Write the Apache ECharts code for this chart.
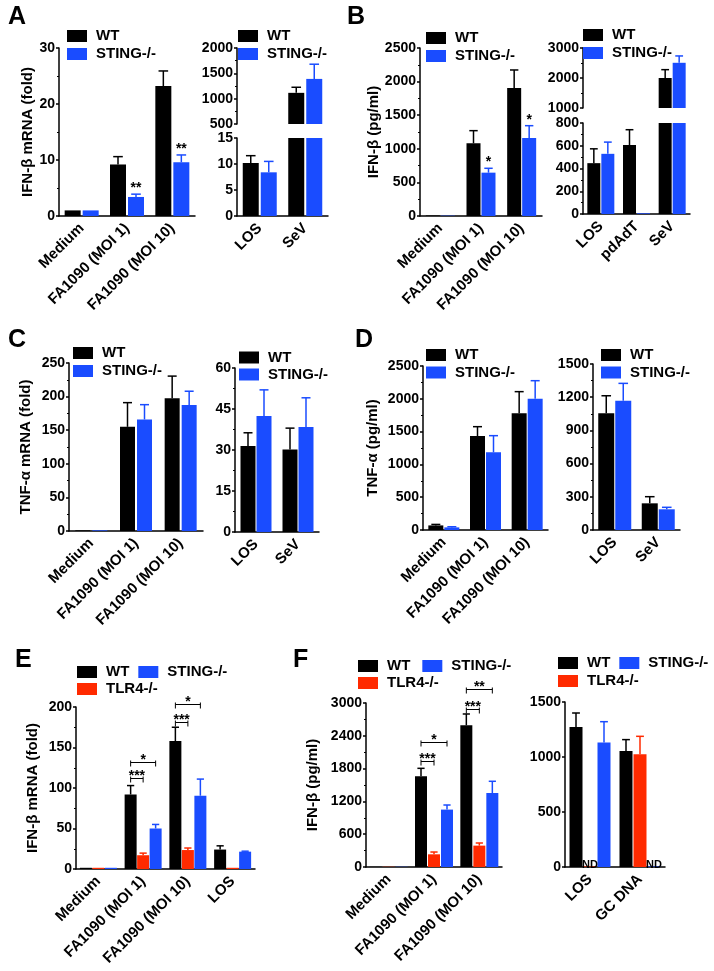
<!DOCTYPE html>
<html>
<head>
<meta charset="utf-8">
<script src="https://cdn.jsdelivr.net/npm/echarts@6/dist/echarts.min.js"></script>
<style>
html, body { margin: 0; padding: 0; background: #fff; }
#main { width: 714px; height: 971px; }
</style>
</head>
<body>
<div id="main"></div>
<script>
// categories
var catsInfect = ['Medium', 'FA1090 (MOI 1)', 'FA1090 (MOI 10)'];
var catsLosSev = ['LOS', 'SeV'];
var catsLosPdSev = ['LOS', 'pdAdT', 'SeV'];
var catsE = ['Medium', 'FA1090 (MOI 1)', 'FA1090 (MOI 10)', 'LOS'];
var catsF2 = ['LOS', 'GC DNA'];

// A: IFN-b mRNA (fold)
var aWT = [1, 9.2, 23.2];        var aWTErr = [0, 1.4, 2.7];
var aSting = [1, 3.4, 9.6];      var aStingErr = [0, 0.5, 1.3];
var aStingStars = ['', '**', '**'];
var a2WT = [10.2, 1115];         var a2WTErr = [1.4, 110];
var a2Sting = [8.4, 1390];       var a2StingErr = [2.1, 290];

// B: IFN-b (pg/ml)
var bWT = [8, 1082, 1905];       var bWTErr = [0, 188, 268];
var bSting = [5, 645, 1161];     var bStingErr = [0, 65, 183];
var bStingStars = ['', '*', '*'];
var b2WT = [447, 606, 2000];     var b2WTErr = [126, 135, 278];
var b2Sting = [529, 6, 2507];    var b2StingErr = [103, 0, 228];

// C: TNF-a mRNA (fold)
var cWT = [1, 155, 197.5];       var cWTErr = [0, 36, 33];
var cSting = [1, 166, 187.5];    var cStingErr = [0, 22, 20.5];
var c2WT = [31.5, 30.2];         var c2WTErr = [4.8, 7.8];
var c2Sting = [42.4, 38.4];      var c2StingErr = [9.6, 10.7];

// D: TNF-a (pg/ml)
var dWT = [70, 1433, 1779];      var dWTErr = [15, 142, 330];
var dSting = [40, 1184, 2002];   var dStingErr = [10, 254, 274];
var d2WT = [1054, 241];          var d2WTErr = [159, 60];
var d2Sting = [1168, 187];       var d2StingErr = [157, 18];

// E: IFN-b mRNA (fold), three genotypes
var eWT = [1.5, 92, 158, 24];    var eWTErr = [0, 11, 17, 4.6];
var eTlr = [1.5, 17, 23.4, 1.5]; var eTlrErr = [0, 2.6, 2.5, 0];
var eSting = [1.5, 50, 90.5, 21.4]; var eStingErr = [0, 5, 20.5, 0.6];
// [category, from bar, to bar, height, text]
var eBrackets = [[1, 0, 1, 112, '***'], [1, 0, 2, 132, '*'], [2, 0, 1, 182, '***'], [2, 0, 2, 204, '*']];

// F: IFN-b (pg/ml)
var fWT = [4, 1659, 2592];       var fWTErr = [0, 146, 207];
var fTlr = [4, 232, 391];        var fTlrErr = [0, 42, 48];
var fSting = [4, 1050, 1354];    var fStingErr = [0, 84, 214];
var fBrackets = [[1, 0, 1, 1933, '***'], [1, 0, 2, 2287, '*'], [2, 0, 1, 2897, '***'], [2, 0, 2, 3250, '**']];
var f2WT = [1273, 1055];         var f2WTErr = [127, 103];
var f2Tlr = [6, 1025];           var f2TlrErr = [0, 163];
var f2Sting = [1131, 6];         var f2StingErr = [190, 0];
var f2TlrND = ['ND', ''];
var f2StingND = ['', 'ND'];

var colWT = '#000000';
var colSting = '#1a4cff';
var colTlr = '#ff2a00';
var FONT = 'Liberation Sans, Arial, Helvetica, sans-serif';

var myChart = echarts.init(document.getElementById('main'));

var grids = [], xAxes = [], yAxes = [], series = [], legends = [], titles = [];

function addGrid(box, cats, y, showX) {
	var gi = grids.length;
	grids.push({ left: box[0], top: box[1], width: box[2], height: box[3] });
	xAxes.push({
		type: 'category', gridIndex: gi, data: cats, show: showX,
		axisLine: { lineStyle: { color: '#000', width: 1.5 } },
		axisTick: { alignWithLabel: true, length: 4, lineStyle: { color: '#000', width: 1.5 } },
		axisLabel: { interval: 0, rotate: 45, margin: 10, color: '#000', fontSize: 15, fontWeight: 'bold', fontFamily: FONT }
	});
	yAxes.push({
		type: 'value', gridIndex: gi, min: y.min, max: y.max, interval: y.interval,
		name: y.name || '', nameLocation: 'middle', nameRotate: 90, nameGap: y.nameGap || 0,
		nameTextStyle: { color: '#000', fontSize: 15, fontWeight: 'bold', fontFamily: FONT },
		axisLine: { show: true, lineStyle: { color: '#000', width: 1.5 } },
		axisTick: { show: true, length: 3, lineStyle: { color: '#000', width: 1.5 } },
		minorTick: { show: y.minor !== false, splitNumber: 2, length: 2, lineStyle: { color: '#000', width: 1 } },
		splitLine: { show: false },
		axisLabel: {
			margin: 4, color: '#000', fontSize: 14, fontWeight: 'bold', fontFamily: FONT,
			formatter: function (v) { return String(v); }
		}
	});
	return gi;
}

// bars + error bars + text marks for one grid
function addBars(gi, groups, barWidth, gap, brackets) {
	var n = groups.length;
	var yMin = yAxes[gi].min, yMax = yAxes[gi].max;
	var pitch = barWidth + gap;
	var items = [];
	groups.forEach(function (g, i) {
		series.push({
			type: 'bar', name: g.name, xAxisIndex: gi, yAxisIndex: gi, data: g.values,
			barWidth: barWidth, barGap: (gap / barWidth * 100) + '%', clip: true, silent: true,
			itemStyle: { color: g.color }
		});
		var dx = (i - (n - 1) / 2) * pitch;
		g.values.forEach(function (v, k) {
			var inRange = v >= yMin && v <= yMax;
			if (inRange && g.errors[k] > 0) {
				items.push({ kind: 'err', cat: k, y: v, err: g.errors[k], dx: dx, color: g.color, cap: barWidth * 0.3 });
			}
			if (inRange && g.stars && g.stars[k]) {
				items.push({ kind: 'text', cat: k, y: v + g.errors[k], dx: dx, dy: 1, text: g.stars[k], size: 14 });
			}
			if (g.nd && g.nd[k] && yMin === 0) {
				items.push({ kind: 'text', cat: k, y: 0, dx: dx, dy: 3, text: g.nd[k], size: 11 });
			}
		});
	});
	(brackets || []).forEach(function (b) {
		items.push({
			kind: 'bracket', cat: b[0], y: b[3], text: b[4],
			dx: (b[1] - (n - 1) / 2) * pitch, dx2: (b[2] - (n - 1) / 2) * pitch
		});
	});
	series.push({
		type: 'custom', xAxisIndex: gi, yAxisIndex: gi, silent: true, z: 5,
		data: items.map(function (it) { return [it.cat, it.y]; }),
		renderItem: function (params, api) {
			var it = items[params.dataIndex];
			var p = api.coord([it.cat, it.y]);
			var x = p[0] + it.dx;
			if (it.kind === 'err') {
				var t = api.coord([it.cat, it.y + it.err]);
				return {
					type: 'group', children: [
						{ type: 'line', shape: { x1: x, y1: p[1], x2: x, y2: t[1] }, style: { stroke: it.color, lineWidth: 1.5 } },
						{ type: 'line', shape: { x1: x - it.cap, y1: t[1], x2: x + it.cap, y2: t[1] }, style: { stroke: it.color, lineWidth: 1.5 } }
					]
				};
			}
			if (it.kind === 'text') {
				return {
					type: 'text', x: x, y: p[1] + it.dy,
					style: { text: it.text, fill: '#000', font: 'bold ' + it.size + 'px ' + FONT, align: 'center', verticalAlign: 'bottom' }
				};
			}
			var x2 = p[0] + it.dx2;
			var yy = Math.round(p[1]) + 0.5;
			return {
				type: 'group', children: [
					{ type: 'line', shape: { x1: x, y1: yy, x2: x2, y2: yy }, style: { stroke: '#000', lineWidth: 1 } },
					{ type: 'line', shape: { x1: x, y1: yy - 2, x2: x, y2: yy + 4 }, style: { stroke: '#000', lineWidth: 1 } },
					{ type: 'line', shape: { x1: x2, y1: yy - 2, x2: x2, y2: yy + 4 }, style: { stroke: '#000', lineWidth: 1 } },
					{ type: 'text', x: (x + x2) / 2, y: yy + 5, style: { text: it.text, fill: '#000', font: 'bold 14px ' + FONT, align: 'center', verticalAlign: 'bottom' } }
				]
			};
		}
	});
}

function addLegend(left, top, names, orient, gap) {
	legends.push({
		left: left, top: top, orient: orient, itemGap: gap, padding: 0,
		itemWidth: 20, itemHeight: 12, icon: 'rect', selectedMode: false, data: names,
		textStyle: { color: '#000', fontSize: 15, fontWeight: 'bold', fontFamily: FONT, padding: [0, 0, 0, 4] }
	});
}

function addLetter(text, left, top) {
	titles.push({ text: text, left: left, top: top, padding: 0, textStyle: { color: '#000', fontSize: 25, fontWeight: 'bold', fontFamily: FONT } });
}

function wt(v, e) { return { name: 'WT', color: colWT, values: v, errors: e }; }
function sting(v, e, s, nd) { return { name: 'STING-/-', color: colSting, values: v, errors: e, stars: s, nd: nd }; }
function tlr(v, e, nd) { return { name: 'TLR4-/-', color: colTlr, values: v, errors: e, nd: nd }; }

// A
var g;
g = addGrid([59, 48, 136, 168], catsInfect, { min: 0, max: 30, interval: 10, name: 'IFN-β mRNA (fold)', nameGap: 19 }, true);
addBars(g, [wt(aWT, aWTErr), sting(aSting, aStingErr, aStingStars)], 16, 2);
g = addGrid([237, 48, 91, 76], catsLosSev, { min: 500, max: 2000, interval: 500 }, false);
addBars(g, [wt(a2WT, a2WTErr), sting(a2Sting, a2StingErr)], 16, 2);
g = addGrid([237, 138, 91, 78], catsLosSev, { min: 0, max: 15, interval: 5, minor: false }, true);
addBars(g, [wt(a2WT, a2WTErr), sting(a2Sting, a2StingErr)], 16, 2);
addLegend(67, 28.5, ['WT', 'STING-/-'], 'vertical', 3);
addLegend(238, 28.5, ['WT', 'STING-/-'], 'vertical', 3);
addLetter('A', 8, 5);

// B
g = addGrid([420, 48, 122, 168], catsInfect, { min: 0, max: 2500, interval: 500, name: 'IFN-β (pg/ml)', nameGap: 38 }, true);
addBars(g, [wt(bWT, bWTErr), sting(bSting, bStingErr, bStingStars)], 14, 1);
g = addGrid([583, 48, 107, 60], catsLosPdSev, { min: 1000, max: 3000, interval: 1000 }, false);
addBars(g, [wt(b2WT, b2WTErr), sting(b2Sting, b2StingErr)], 13, 1);
g = addGrid([583, 123, 107, 91], catsLosPdSev, { min: 0, max: 800, interval: 200 }, true);
addBars(g, [wt(b2WT, b2WTErr), sting(b2Sting, b2StingErr)], 13, 1);
addLegend(426, 30.5, ['WT', 'STING-/-'], 'vertical', 3);
addLegend(583, 27.5, ['WT', 'STING-/-'], 'vertical', 3);
addLetter('B', 347, 5);

// C
g = addGrid([69, 363, 134, 168], catsInfect, { min: 0, max: 250, interval: 50, name: 'TNF-α mRNA (fold)', nameGap: 36 }, true);
addBars(g, [wt(cWT, cWTErr), sting(cSting, cStingErr)], 15, 2);
g = addGrid([235, 368, 84, 164], catsLosSev, { min: 0, max: 60, interval: 15 }, true);
addBars(g, [wt(c2WT, c2WTErr), sting(c2Sting, c2StingErr)], 15, 1);
addLegend(73, 345.5, ['WT', 'STING-/-'], 'vertical', 3);
addLegend(239, 350, ['WT', 'STING-/-'], 'vertical', 2);
addLetter('C', 8, 328);

// D
g = addGrid([423, 366, 125, 164], catsInfect, { min: 0, max: 2500, interval: 500, name: 'TNF-α (pg/ml)', nameGap: 43 }, true);
addBars(g, [wt(dWT, dWTErr), sting(dSting, dStingErr)], 15, 1);
g = addGrid([593, 364, 87, 166], catsLosSev, { min: 0, max: 1500, interval: 300 }, true);
addBars(g, [wt(d2WT, d2WTErr), sting(d2Sting, d2StingErr)], 16, 1);
addLegend(426, 347.5, ['WT', 'STING-/-'], 'vertical', 2.5);
addLegend(601, 347.5, ['WT', 'STING-/-'], 'vertical', 2.5);
addLetter('D', 355, 328);

// E
g = addGrid([76, 707, 179, 162], catsE, { min: 0, max: 200, interval: 50, name: 'IFN-β mRNA (fold)', nameGap: 36 }, true);
addBars(g, [wt(eWT, eWTErr), tlr(eTlr, eTlrErr), sting(eSting, eStingErr)], 12, 0.5, eBrackets);
addLegend(77, 664.5, ['WT', 'STING-/-'], 'horizontal', 9);
addLegend(77, 681.5, ['TLR4-/-'], 'horizontal', 9);
addLetter('E', 15, 648);

// F
g = addGrid([366, 703, 136, 164], catsInfect, { min: 0, max: 3000, interval: 600, name: 'IFN-β (pg/ml)', nameGap: 46 }, true);
addBars(g, [wt(fWT, fWTErr), tlr(fTlr, fTlrErr), sting(fSting, fStingErr)], 12, 1, fBrackets);
g = addGrid([565, 702, 100, 165], catsF2, { min: 0, max: 1500, interval: 500, minor: false }, true);
addBars(g, [wt(f2WT, f2WTErr), tlr(f2Tlr, f2TlrErr, f2TlrND), sting(f2Sting, f2StingErr, null, f2StingND)], 13, 1);
addLegend(358, 658.5, ['WT', 'STING-/-'], 'horizontal', 12);
addLegend(358, 675.5, ['TLR4-/-'], 'horizontal', 12);
addLegend(558, 655.5, ['WT', 'STING-/-'], 'horizontal', 9);
addLegend(558, 673.5, ['TLR4-/-'], 'horizontal', 9);
addLetter('F', 293, 648);

var option = {
	backgroundColor: '#fff',
	animation: false,
	title: titles,
	legend: legends,
	grid: grids,
	xAxis: xAxes,
	yAxis: yAxes,
	series: series
};

myChart.setOption(option);
window.onresize = myChart.resize;
</script>
</body>
</html>
